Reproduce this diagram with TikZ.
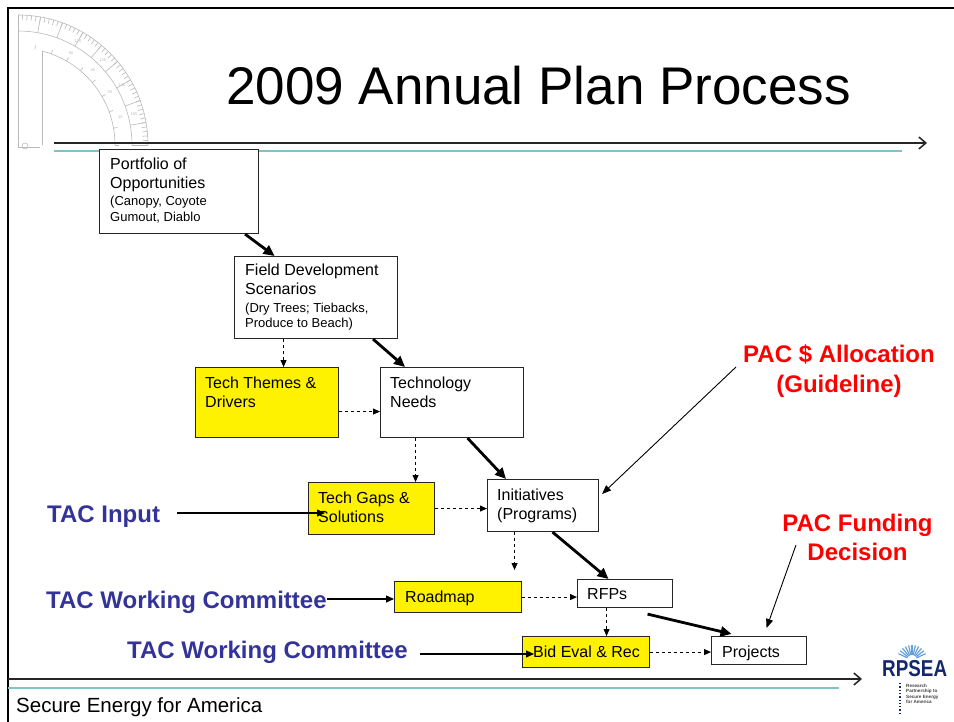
\documentclass[tikz,border=0pt]{standalone}
\usepackage{fontspec}
\setmainfont{Liberation Sans}
\usetikzlibrary{arrows.meta}
\definecolor{tacblue}{RGB}{51,51,153}
\definecolor{pacred}{RGB}{255,0,0}
\definecolor{rulecol}{RGB}{125,195,200}
\definecolor{protgray}{RGB}{185,185,185}
\definecolor{logonavy}{RGB}{20,40,110}
\definecolor{logoray}{RGB}{100,160,220}

\begin{document}
\begin{tikzpicture}[x=1pt,y=-1pt,
  flowbox/.style={draw=black!85, line width=1.1pt, fill=white, anchor=north west, inner sep=0pt},
  hlbox/.style={flowbox, fill=yellow},
  boxtxt/.style={anchor=base west, align=left, inner sep=0pt, font=\fontsize{16}{19}\selectfont},
  taclabel/.style={anchor=base west, inner sep=0pt, text=tacblue, font=\fontsize{24}{28}\selectfont\bfseries},
  paclabel/.style={anchor=base, inner sep=0pt, align=center, text=pacred},
  mainflow/.style={line width=2.8pt, -{Triangle[length=11pt,width=10pt]}},
  sideflow/.style={line width=1pt, dash pattern=on 3pt off 3pt, -{Triangle[length=7pt,width=6pt]}},
  feed/.style={line width=1.1pt, -{Triangle[length=8pt,width=7pt]}},
  hint/.style={line width=0.9pt, -{Triangle[length=9pt,width=7pt]}},
  timeline/.style={line width=1.5pt, black!85, -{Straight Barb[length=7pt,width=12pt]}},
  accent/.style={rulecol, line width=2pt},
  scalenum/.style={text=protgray, font=\fontsize{4}{4}\selectfont, inner sep=0pt}
]
\useasboundingbox (0,0) rectangle (954,722);

% ---- protractor in the top-left corner ----
\begin{scope}[shift={(18,145)}, y=1pt, draw=protgray, line width=0.6pt]
  \draw (130,0) arc[start angle=0, end angle=90, radius=130];
  \draw (114,0) arc[start angle=0, end angle=90, radius=114];
  \draw (97,0) arc[start angle=0, end angle=75.7, radius=97];
  \draw (0,-2) -- (0,130);
  \draw (24,0) -- (24,94);
  \draw (0,-2) -- (22,-2);
  \draw (7,-1) circle[radius=3];
  \foreach \a in {0,2,...,90} \draw (\a:125) -- (\a:130);
  \foreach \a in {0,10,...,90} {
    \draw (\a:114) -- (\a:130);
    \draw (\a:97) -- (\a:101);
  }
  \foreach \a in {15,30,45,60} {
    \node[scalenum] (outer-\a) at (\a:120) {\the\numexpr180-\a\relax};
    \node[scalenum] (inner-\a) at (\a:106) {\a};
  }
\end{scope}

% ---- slide frame and rules ----
\draw[line width=2.5pt] (8,722) -- (8,8) -- (954,8);
\draw[timeline] (54,143) -- (927,143);
\draw[accent] (54,151) -- (902,151);
\draw[timeline] (8,679) -- (862,679);
\draw[accent] (8,688) -- (839,688);

% ---- title and footer ----
\node[anchor=base west, inner sep=0pt, font=\fontsize{53}{60}\selectfont] (title) at (226,105) {2009 Annual Plan Process};
\node[anchor=base west, inner sep=0pt, font=\fontsize{20.5}{24}\selectfont] (footer) at (16,712) {Secure Energy for America};

% ---- process boxes ----
\node[flowbox, minimum width=159pt, minimum height=84pt] (port) at (99,149) {};
\node[flowbox, minimum width=163pt, minimum height=82pt] (field) at (234,256) {};
\node[hlbox,   minimum width=143pt, minimum height=70pt] (themes) at (195,367) {};
\node[flowbox, minimum width=143pt, minimum height=70pt] (needs) at (380,367) {};
\node[hlbox,   minimum width=126pt, minimum height=52pt] (gaps) at (308,482) {};
\node[flowbox, minimum width=111pt, minimum height=52pt] (init) at (487,479) {};
\node[hlbox,   minimum width=127pt, minimum height=31pt] (road) at (394,581) {};
\node[flowbox, minimum width=95pt,  minimum height=28pt] (rfps) at (577,579) {};
\node[hlbox,   minimum width=127pt, minimum height=31pt] (bid) at (522,636) {};
\node[flowbox, minimum width=95pt,  minimum height=28pt] (proj) at (711,636) {};

% ---- box texts (placed by the baseline of their last line) ----
\node[boxtxt] (port-t) at ([shift={(11,73)}]port.north west)
  {Portfolio of\\Opportunities\\[-2pt]{\fontsize{13}{16}\selectfont (Canopy, Coyote}\\[-3pt]{\fontsize{13}{16}\selectfont Gumout, Diablo}};
\node[boxtxt] (field-t) at ([shift={(11,72)}]field.north west)
  {Field Development\\Scenarios\\[-2pt]{\fontsize{13}{16}\selectfont (Dry Trees; Tiebacks,}\\[-3pt]{\fontsize{13}{16}\selectfont Produce to Beach)}};
\node[boxtxt] (themes-t) at ([shift={(10,40)}]themes.north west) {Tech Themes \&\\Drivers};
\node[boxtxt] (needs-t) at ([shift={(10,40)}]needs.north west) {Technology\\Needs};
\node[boxtxt] (gaps-t) at ([shift={(10,40)}]gaps.north west) {Tech Gaps \&\\Solutions};
\node[boxtxt] (init-t) at ([shift={(10,40)}]init.north west) {Initiatives\\(Programs)};
\node[boxtxt] (road-t) at ([shift={(11,21)}]road.north west) {Roadmap};
\node[boxtxt] (rfps-t) at ([shift={(10,20)}]rfps.north west) {RFPs};
\node[boxtxt] (bid-t) at ([shift={(11,21)}]bid.north west) {Bid Eval \& Rec};
\node[boxtxt] (proj-t) at ([shift={(11,21)}]proj.north west) {Projects};

% ---- committee labels ----
\node[taclabel] (tacin) at (47,522) {TAC Input};
\node[taclabel] (wc1) at (46,608) {TAC Working Committee};
\node[taclabel] (wc2) at (127,658) {TAC Working Committee};
\node[paclabel, font=\fontsize{24}{30}\selectfont\bfseries] (pacalloc) at (839,392) {PAC \$ Allocation\\(Guideline)};
\node[paclabel, font=\fontsize{24}{28.5}\selectfont\bfseries] (pacfund) at (857.5,560) {PAC Funding\\Decision};
\coordinate (pacalloc-tail) at (736,367);
\coordinate (pacfund-tail) at (796,545);

% ---- main flow ----
\draw[mainflow] ([shift={(66,0)}]port.south) -- ([shift={(-41.5,0)}]field.north);
\draw[mainflow] ([shift={(57,0)}]field.south) -- ([shift={(-47,0)}]needs.north);
\draw[mainflow] ([shift={(15.5,0)}]needs.south) -- ([shift={(-37,0)}]init.north);
\draw[mainflow] ([shift={(9.5,0)}]init.south) -- ([shift={(-16.5,0)}]rfps.north);
\draw[mainflow] ([shift={(22.5,6)}]rfps.south) -- ([shift={(-27.5,-2)}]proj.north);

% ---- supporting flow ----
\draw[sideflow] ([shift={(-32.5,0)}]field.south) -- ([shift={(16.5,0)}]themes.north);
\draw[sideflow] ([shift={(0,9)}]themes.east) -- ([shift={(0,9)}]themes.east -| needs.west);
\draw[sideflow] ([shift={(-36.5,0)}]needs.south) -- ([shift={(44,0)}]gaps.north);
\draw[sideflow] (gaps.east) -- (gaps.east -| init.west);
\draw[sideflow] ([shift={(-28.5,0)}]init.south) -- ([shift={(56.5,-11)}]road.north);
\draw[sideflow] (road.east) -- (road.east -| rfps.west);
\draw[sideflow] ([shift={(-18.5,0)}]rfps.south) -- ([shift={(20.5,0)}]bid.north);
\draw[sideflow] (bid.east) -- (bid.east -| proj.west);

% ---- committee inputs ----
\draw[feed] ([shift={(17,-9)}]tacin.base east) -- ([shift={(17,-9)}]tacin.base east -| gaps.west);
\draw[feed] ([shift={(0,-9)}]wc1.base east) -- ([shift={(0,-9)}]wc1.base east -| road.west);
\draw[feed] ([shift={(12,-4)}]wc2.base east) -- ([shift={(12,-4)}]wc2.base east -| bid.west);
\draw[hint] (pacalloc-tail) -- ([shift={(3,15)}]init.north east);
\draw[hint] (pacfund-tail) -- ([shift={(7.5,-8)}]proj.north);

% ---- RPSEA logo: sunburst over the lettering (y grows downward, so angles are negated) ----
\foreach \a in {25,38,...,155}
  \draw[logoray, line width=1.2pt] ([shift={(-\a:5)}]912,660) -- ([shift={(-\a:15)}]912,660);
\node[anchor=base west, inner sep=0pt, text=logonavy, font=\fontsize{23}{23}\selectfont\bfseries] (logo) at (882,676) {\scalebox{0.82}[1]{RPSEA}};
\draw[logonavy, dotted, line width=1.3pt] (900,683) -- (900,714);
\node[anchor=north west, inner sep=0pt, align=left, text=black!75, font=\fontsize{4.6}{5.4}\selectfont\bfseries] (logo-sub) at (906,684) {Research\\Partnership to\\Secure Energy\\for America};
\end{tikzpicture}
\end{document}
